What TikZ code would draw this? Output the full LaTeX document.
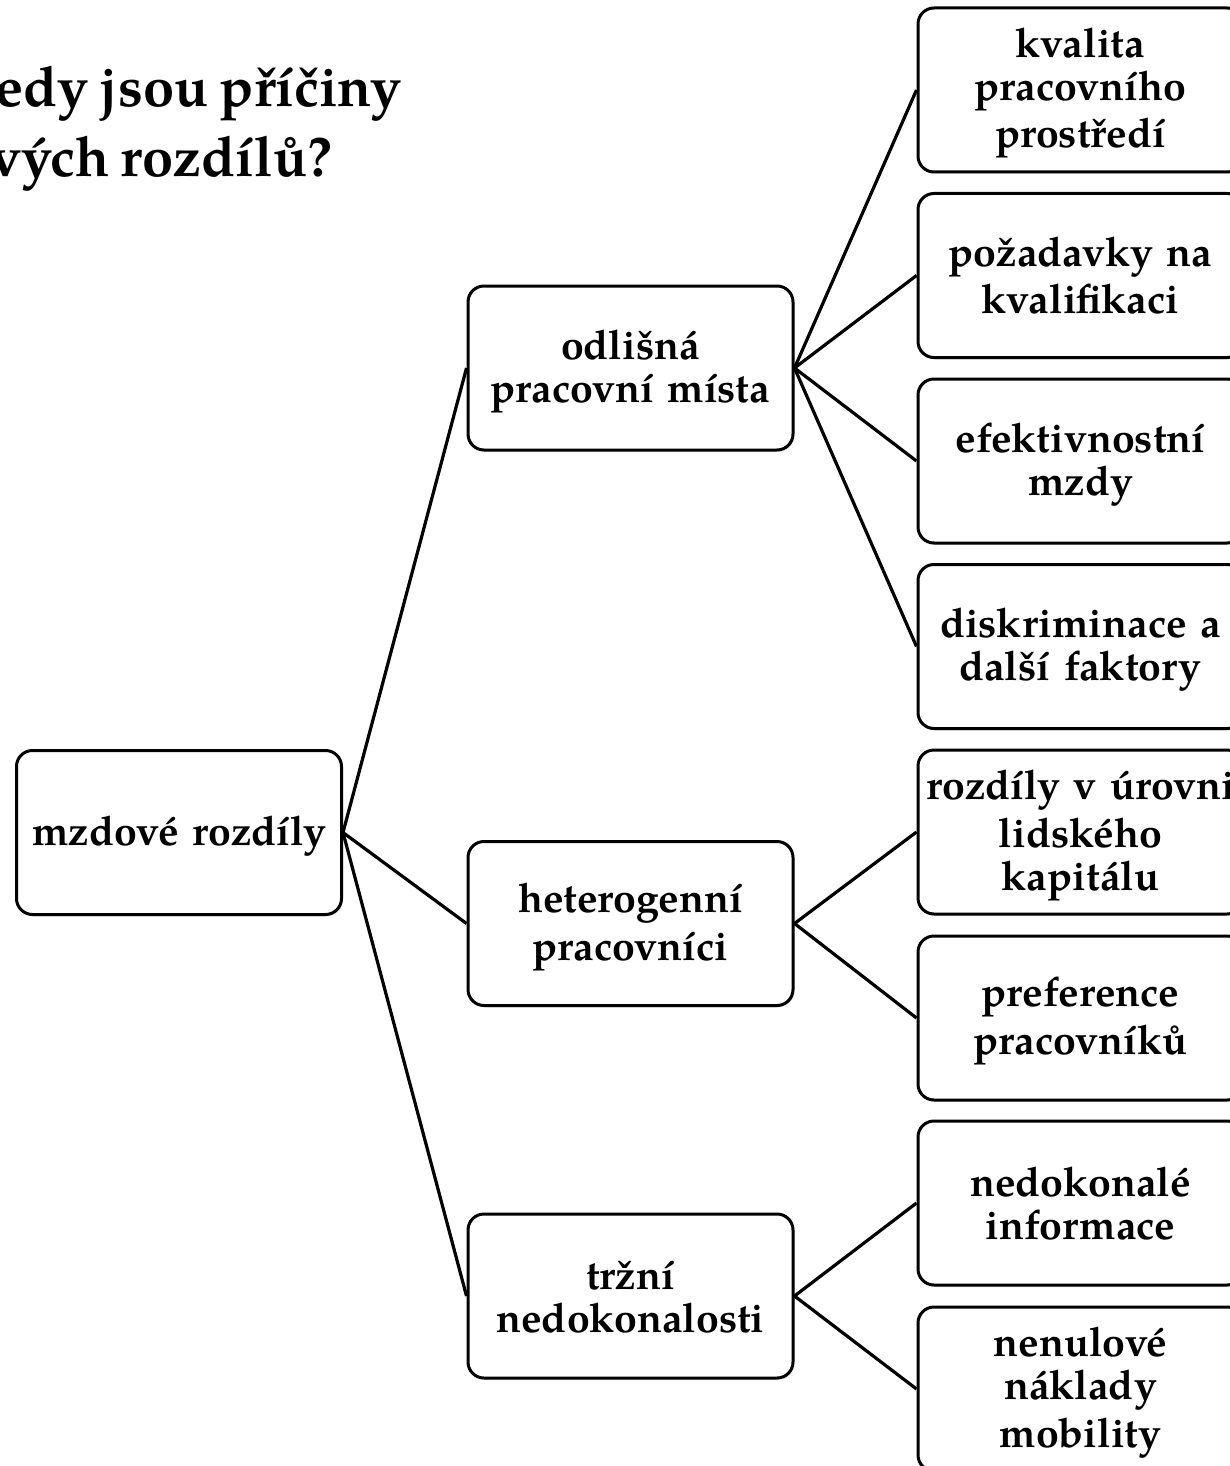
\documentclass[tikz,border=0pt]{standalone}
\usepackage{fontspec}
\setmainfont{TeX Gyre Pagella}[WordSpace=0.8]
\usetikzlibrary{shadows}
\newcommand\lnst{\rule[-7pt]{0pt}{43pt}}
\lineskiplimit=-100pt\relax
\lineskip=0pt\relax
\tikzset{
  box/.style={draw=black, line width=3pt, rounded corners=16pt, fill=white,
    minimum width=325pt, minimum height=164pt, text width=322pt, align=center,
    inner sep=0pt, font=\bfseries\fontsize{41}{43}\selectfont,
    drop shadow={shadow xshift=1.5pt, shadow yshift=-2pt, opacity=0.18}},
  link/.style={line width=3.2pt, black},
  ttl/.style={anchor=base west, inner sep=0pt, font=\bfseries\fontsize{56}{69}\selectfont}
}
\begin{document}
\begin{tikzpicture}[x=1pt, y=-1pt]
\useasboundingbox (0,0) rectangle (1229,1466);
% title (cut at the left edge)
\node[ttl] (t1) at (-5,107) {edy jsou příčiny};
\node[ttl] (t2) at (-10,177) {vých rozdílů?};
% nodes
\node[box] (root) at (179,832.5) {\lnst mzdové rozdíly};
\node[box] (m1) at (630.5,368) {\lnst odlišná\\\lnst pracovní místa};
\node[box] (m2) at (630.5,923.5) {\lnst heterogenní\\\lnst pracovníci};
\node[box] (m3) at (630.5,1296) {\lnst tržní\\\lnst nedokonalosti};
\node[box] (r1) at (1080.5,90) {\lnst kvalita\\\lnst pracovního\\\lnst prostředí};
\node[box] (r2) at (1080.5,275.5) {\lnst požadavky na\\\lnst kvalifikaci};
\node[box] (r3) at (1080.5,461) {\lnst efektivnostní\\\lnst mzdy};
\node[box] (r4) at (1080.5,646.5) {\lnst diskriminace a\\\lnst další faktory};
\node[box] (r5) at (1080.5,832) {\lnst rozdíly v úrovni\\\lnst lidského\\\lnst kapitálu};
\node[box] (r6) at (1080.5,1018) {\lnst preference\\\lnst pracovníků};
\node[box] (r7) at (1080.5,1203) {\lnst nedokonalé\\\lnst informace};
\node[box] (r8) at (1080.5,1389) {\lnst nenulové\\\lnst náklady\\\lnst mobility};
% connectors
\draw[link] (root.east) -- (m1.west);
\draw[link] (root.east) -- (m2.west);
\draw[link] (root.east) -- (m3.west);
\draw[link] (m1.east) -- (r1.west);
\draw[link] (m1.east) -- (r2.west);
\draw[link] (m1.east) -- (r3.west);
\draw[link] (m1.east) -- (r4.west);
\draw[link] (m2.east) -- (r5.west);
\draw[link] (m2.east) -- (r6.west);
\draw[link] (m3.east) -- (r7.west);
\draw[link] (m3.east) -- (r8.west);
\end{tikzpicture}
\end{document}
